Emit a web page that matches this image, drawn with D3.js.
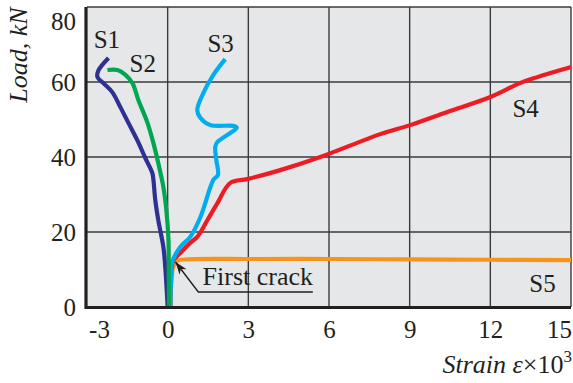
<!DOCTYPE html>
<html>
<head>
<meta charset="utf-8">
<script src="https://cdn.jsdelivr.net/npm/d3@7/dist/d3.min.js"></script>
<style>
  html, body { margin: 0; padding: 0; background: #fff; }
  svg text { font-family: "Liberation Serif", "Times New Roman", serif; fill: #231f20; }
</style>
</head>
<body>
<svg id="chart" width="573" height="383"></svg>
<script>
// Load–strain curves for specimens S1–S5 (strain ×10³, load in kN)
const s1 = [[0,0],[-0.09,10.7],[-0.16,16],[-0.35,23.2],[-0.46,28.5],[-0.53,33.9],[-0.57,35.7],
  [-0.83,39.7],[-1.13,44.5],[-1.46,49.1],[-1.76,53.3],[-2.06,57.3],[-2.39,59.7],[-2.61,61.3],
  [-2.58,63],[-2.2,66.4]];
const s2 = [[0.05,0],[0.04,10],[0.03,17.9],[-0.05,25.9],[-0.16,32],[-0.35,38.4],[-0.53,43.7],
  [-0.75,49.1],[-1.09,55.2],[-1.31,59.7],[-1.57,61.9],[-1.87,63.2],[-2.24,63.2]];
const s3 = [[0.1,0],[0.12,6],[0.17,12],[0.47,16],[0.84,18.7],[1.22,24],[1.7,33.9],[1.87,35.2],
  [1.81,39.2],[1.77,42.7],[1.85,44],[2.33,46.4],[2.57,47.8],[2.44,48.3],[1.59,48.5],[1.22,50.4],
  [1.1,52.5],[1.33,57.1],[1.7,61.9],[2.14,66.1]];
const s4 = [[0.1,0],[0.12,6],[0.2,12.2],[0.47,14.4],[0.84,17.1],[1.1,18.7],[1.48,23.2],[1.85,27.7],
  [2.33,33.1],[2.96,34.1],[4.19,36.5],[5.68,40],[7.91,46.1],[9.02,48.5],[10.4,52],[12.0,56],
  [13.1,59.7],[13.75,61.3],[15.0,64]];
const s5 = [[0.1,0],[0.12,5],[0.15,8],[0.2,10.5],[0.35,12.3],[0.8,12.7],[3,12.8],[6,12.8],
  [9,12.7],[12,12.6],[15,12.5]];

const seriesNames = ["S5", "S4", "S3", "S1", "S2"];
const seriesData = [s5, s4, s3, s1, s2];
const seriesColors = ["#f7941d", "#ed1c24", "#00aeef", "#2e3192", "#00a651"];

// Curve name labels (anchor in data units)
const labelNames = ["S1", "S2", "S3", "S4", "S5"];
const labelAt = [[-2.75, 69.1], [-1.42, 62.7], [1.48, 68], [12.82, 50.7], [13.45, 4]];

const xTicks = [-3, 0, 3, 6, 9, 12, 15];
const yTicks = [0, 20, 40, 60, 80];

const svg = d3.select("#chart");
const x = d3.scaleLinear().domain([-3, 15]).range([87, 571]);
const y = d3.scaleLinear().domain([0, 80]).range([307, 7]);

// plot background
svg.append("rect")
  .attr("x", x(-3)).attr("y", y(80))
  .attr("width", x(15) - x(-3)).attr("height", y(0) - y(80))
  .attr("fill", "#e6e7e8");

// grid
const grid = svg.append("g").attr("stroke", "#3b3b3d").attr("stroke-width", 1.4);
xTicks.filter(t => t > -3).forEach(t => {
  grid.append("line").attr("x1", x(t)).attr("x2", x(t)).attr("y1", y(0)).attr("y2", y(80));
});
yTicks.filter(t => t > 0).forEach(t => {
  grid.append("line").attr("x1", x(-3)).attr("x2", x(15)).attr("y1", y(t)).attr("y2", y(t));
});

// curves
const line = d3.line().x(d => x(d[0])).y(d => y(d[1])).curve(d3.curveCatmullRom.alpha(0.5));
seriesData.forEach((s, i) => {
  svg.append("path")
    .attr("d", line(s))
    .attr("fill", "none")
    .attr("stroke", seriesColors[i])
    .attr("stroke-width", 4.2)
    .attr("stroke-linejoin", "round")
    .attr("stroke-linecap", "butt");
});

// thick axis lines
svg.append("line").attr("x1", x(-3) - 1).attr("x2", x(15)).attr("y1", y(0) + 0.5).attr("y2", y(0) + 0.5)
  .attr("stroke", "#231f20").attr("stroke-width", 3.2);
svg.append("line").attr("x1", x(-3) - 1).attr("x2", x(-3) - 1).attr("y1", y(80)).attr("y2", y(0) + 2)
  .attr("stroke", "#231f20").attr("stroke-width", 3.2);

// y tick labels
const yAxis = d3.axisLeft(y).tickValues(yTicks).tickSize(0).tickPadding(11);
const gy = svg.append("g").attr("transform", `translate(${x(-3)},0)`).call(yAxis);
gy.select(".domain").remove();
gy.selectAll("text")
  .attr("font-size", 25)
  .attr("font-family", "Liberation Serif, Times New Roman, serif")
  .attr("fill", "#231f20")
  .attr("dy", d => d === 80 ? "0.88em" : "0.35em");

// x tick labels
const xAxis = d3.axisBottom(x).tickValues(xTicks).tickSize(0).tickPadding(0).tickFormat(d3.format("d"));
const gx = svg.append("g").attr("transform", `translate(0,${y(0)})`).call(xAxis);
gx.select(".domain").remove();
gx.selectAll("text")
  .attr("font-size", 25)
  .attr("font-family", "Liberation Serif, Times New Roman, serif")
  .attr("fill", "#231f20")
  .attr("y", 31).attr("dy", 0)
  .attr("dx", d => d === -3 ? 12 : d === 15 ? -12 : 0)
  .text(d => d < 0 ? "-" + Math.abs(d) : d);

// axis titles
svg.append("text")
  .attr("transform", `translate(27,${y(80) + 48}) rotate(-90)`)
  .attr("text-anchor", "middle")
  .attr("font-size", 26)
  .attr("font-style", "italic")
  .text("Load, kN");

const xt = svg.append("text")
  .attr("x", 572).attr("y", 373)
  .attr("text-anchor", "end")
  .attr("font-size", 26);
xt.append("tspan").attr("font-style", "italic").text("Strain ε");
xt.append("tspan").text("×10");
xt.append("tspan").attr("font-size", 17).attr("dy", -11).text("3");

// curve names
labelNames.forEach((n, i) => {
  svg.append("text")
    .attr("x", x(labelAt[i][0])).attr("y", y(labelAt[i][1]))
    .attr("font-size", 25)
    .text(n);
});

// First crack annotation
const tip = [0.29, 12], elbow = [1.14, 4], lineEnd = [5.4, 4];
svg.append("defs").append("marker")
  .attr("id", "arr").attr("viewBox", "0 0 10 10").attr("refX", 10).attr("refY", 5)
  .attr("markerWidth", 9).attr("markerHeight", 9).attr("orient", "auto")
  .append("path").attr("d", "M0,1.5 L10,5 L0,8.5 L3,5 Z").attr("fill", "#231f20");
svg.append("path")
  .attr("d", `M${x(lineEnd[0])},${y(lineEnd[1])} L${x(elbow[0])},${y(elbow[1])} L${x(tip[0])},${y(tip[1])}`)
  .attr("fill", "none").attr("stroke", "#231f20").attr("stroke-width", 1.4)
  .attr("marker-end", "url(#arr)");
svg.append("text")
  .attr("x", x(1.3)).attr("y", y(5.9))
  .attr("font-size", 26)
  .text("First crack");
</script>
</body>
</html>
